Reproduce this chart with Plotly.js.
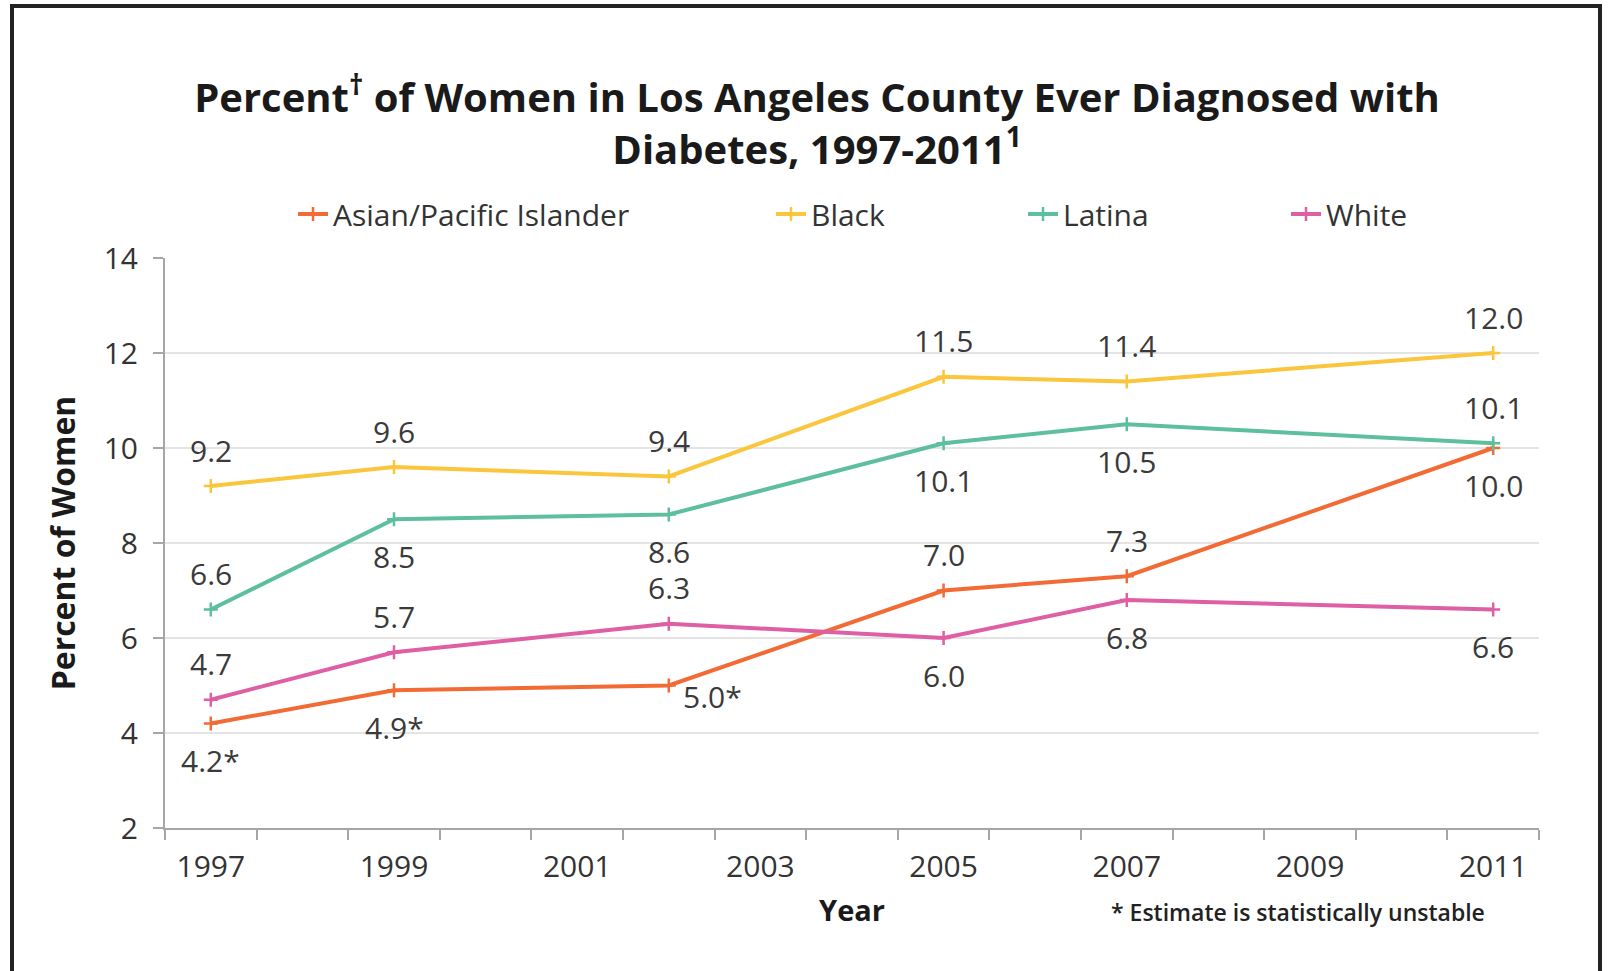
<!DOCTYPE html>
<html>
<head>
<meta charset="utf-8">
<script src="https://cdn.plot.ly/plotly-3.0.1.min.js"></script>
<style>
  html, body { margin: 0; padding: 0; background: #ffffff; }
  #wrap { position: relative; width: 1612px; height: 971px; overflow: hidden; }
  #chart { width: 1612px; height: 971px; }
  #frame { position: absolute; left: 10px; top: 4px; width: 1592px; height: 1000px;
           border: 4px solid #222222; pointer-events: none; box-sizing: border-box; }
</style>
</head>
<body>
<div id="wrap">
  <div id="chart"></div>
  <div id="frame"></div>
</div>
<script>
// ---- data ----
const allYears = ['1997','1998','1999','2000','2001','2002','2003','2004','2005','2006','2007','2008','2009','2010','2011'];
const tickLabels = ['1997','','1999','','2001','','2003','','2005','','2007','','2009','','2011'];
const surveyYears = ['1997','1999','2002','2005','2007','2011'];

const asianPI = [4.2, 4.9, 5.0, 7.0, 7.3, 10.0];
const asianUnstable = [true, true, true, false, false, false];
const black = [9.2, 9.6, 9.4, 11.5, 11.4, 12.0];
const latina = [6.6, 8.5, 8.6, 10.1, 10.5, 10.1];
const white = [4.7, 5.7, 6.3, 6.0, 6.8, 6.6];

const seriesNames = ['Asian/Pacific Islander', 'Black', 'Latina', 'White'];

// ---- styling / label placement (not data) ----
const colors = ['#F26B35', '#F9C63C', '#5DBF9E', '#DE5FA4'];
// 'a' = above, 'b' = below, 'r' = right
const placeAsian  = ['b','b','r','a','a','b'];
const placeBlack  = ['a','a','a','a','a','a'];
const placeLatina = ['a','b','b','b','b','a'];
const placeWhite  = ['a','a','a','b','b','b'];

const FONT = '"Open Sans", "Noto Sans", sans-serif';
const seriesVals = [asianPI, black, latina, white];
const places = [placeAsian, placeBlack, placeLatina, placeWhite];
const legendIds = ['legend','legend2','legend3','legend4'];
const legendX = [293, 771, 1023, 1286];

const traces = seriesVals.map((vals, i) => ({
  type: 'scatter',
  mode: 'lines+markers',
  name: seriesNames[i],
  x: surveyYears,
  y: vals,
  line: { color: colors[i], width: 4 },
  marker: { symbol: 'cross-thin-open', size: 10, color: colors[i], line: { color: colors[i], width: 2.5 } },
  legend: legendIds[i],
  hoverinfo: 'x+y+name'
}));

const annotations = [];
seriesVals.forEach((vals, i) => {
  vals.forEach((v, j) => {
    let txt = v.toFixed(1);
    if (i === 0 && asianUnstable[j]) txt += '*';
    const p = places[i][j];
    const a = {
      x: allYears.indexOf(surveyYears[j]), y: v, xref: 'x', yref: 'y',
      text: txt, showarrow: false,
      font: { family: FONT, size: 30, color: '#3a3a3a' },
      xanchor: 'center', yanchor: 'middle'
    };
    if (p === 'a') a.yshift = 36;
    else if (p === 'b') a.yshift = -37;
    else { a.xanchor = 'left'; a.xshift = 12; a.yshift = -11; }
    annotations.push(a);
  });
});

// footnote, placed in plot-area paper coordinates
annotations.push({
  xref: 'paper', yref: 'paper',
  x: (1298 - 165) / 1374, y: (828 - 912) / 570,
  xanchor: 'center', yanchor: 'middle',
  text: '* Estimate is statistically unstable', showarrow: false,
  font: { family: FONT, size: 23, color: '#222222', weight: 600 }
});

const legendBase = {
  orientation: 'h',
  xref: 'container', yref: 'container',
  yanchor: 'middle', y: 1 - 214 / 971,
  xanchor: 'left',
  font: { family: FONT, size: 30, color: '#333333' },
  bgcolor: 'rgba(0,0,0,0)',
  itemwidth: 30
};

const layout = {
  width: 1612, height: 971,
  paper_bgcolor: '#ffffff', plot_bgcolor: '#ffffff',
  margin: { l: 165, r: 73, t: 258, b: 143 },
  font: { family: FONT, color: '#333333' },
  title: {
    text: 'Percent<sup>†</sup> of Women in Los Angeles County Ever Diagnosed with<br>Diabetes, 1997-2011<sup>1</sup>',
    font: { family: FONT, size: 40, color: '#1a1a1a', weight: 700 },
    xref: 'container', x: 817 / 1612, xanchor: 'center',
    yref: 'container', y: 1 - 112 / 971, yanchor: 'middle'
  },
  showlegend: true,
  legend:  Object.assign({}, legendBase, { x: legendX[0] / 1612 }),
  legend2: Object.assign({}, legendBase, { x: legendX[1] / 1612 }),
  legend3: Object.assign({}, legendBase, { x: legendX[2] / 1612 }),
  legend4: Object.assign({}, legendBase, { x: legendX[3] / 1612 }),
  xaxis: {
    type: 'category',
    categoryorder: 'array', categoryarray: allYears,
    range: [-0.5, allYears.length - 0.5],
    tickmode: 'array', tickvals: allYears, ticktext: tickLabels,
    tickson: 'boundaries',
    ticks: 'outside', ticklen: 10, tickwidth: 2, tickcolor: '#A6A6A6',
    showline: true, linecolor: '#A6A6A6', linewidth: 2,
    showgrid: false, zeroline: false,
    tickfont: { family: FONT, size: 30, color: '#333333' },
    ticklabelstandoff: 11,
    title: { text: 'Year', font: { family: FONT, size: 29, color: '#1a1a1a', weight: 700 }, standoff: 16 },
    fixedrange: true
  },
  yaxis: {
    range: [2, 14], dtick: 2, tick0: 2,
    showgrid: true, gridcolor: '#E4E4E4', gridwidth: 2,
    showline: true, linecolor: '#A6A6A6', linewidth: 2,
    ticks: 'outside', ticklen: 10, tickwidth: 2, tickcolor: '#A6A6A6',
    zeroline: false,
    tickfont: { family: FONT, size: 30, color: '#333333' },
    ticklabelstandoff: 9,
    title: { text: 'Percent of Women', font: { family: FONT, size: 32, color: '#1a1a1a', weight: 700 }, standoff: 18 },
    fixedrange: true
  },
  annotations: annotations
};

Plotly.newPlot('chart', traces, layout, { displayModeBar: false, staticPlot: true });
</script>
</body>
</html>
